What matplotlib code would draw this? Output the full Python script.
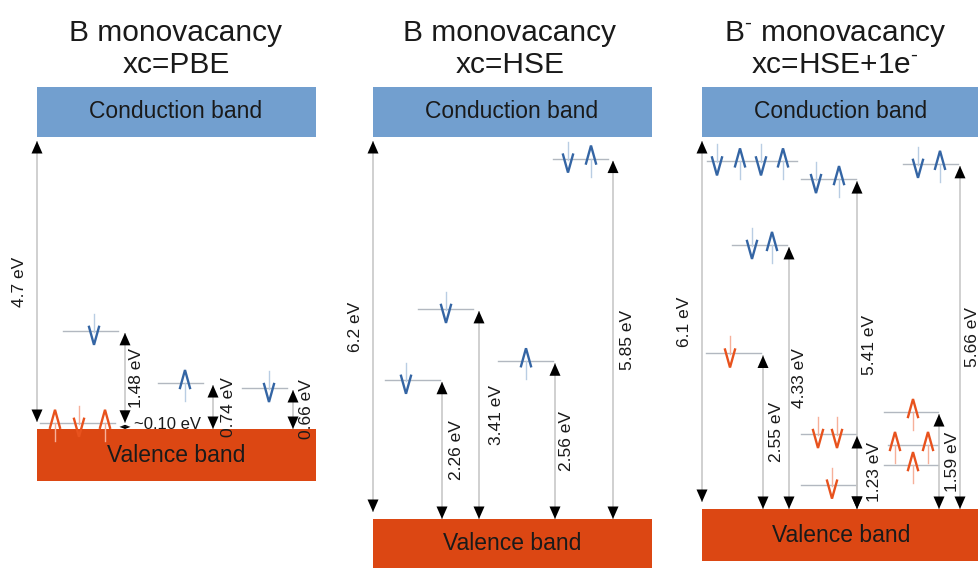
import matplotlib
matplotlib.use("Agg")
import matplotlib.pyplot as plt
from matplotlib.patches import Rectangle, Polygon

plt.rcParams['font.family'] = ['Liberation Sans', 'DejaVu Sans']
plt.rcParams['mathtext.fontset'] = 'custom'
plt.rcParams['mathtext.rm'] = 'Liberation Sans'
plt.rcParams['mathtext.it'] = 'Liberation Sans:italic'

# Band gaps (eV) and panel titles
gaps = [4.7, 6.2, 6.1]
titles = ["B monovacancy", "B monovacancy", "B$^{\u2010}$ monovacancy"]
functionals = ["xc=PBE", "xc=HSE", "xc=HSE+1e$^{\u2010}$"]

# Defect levels above the VBM (eV), spin occupation (u/d) and spin channel colour
pbe_levels = [0.10, 1.58, 0.74, 0.66]
pbe_spins = ["udu", "d", "u", "d"]
pbe_colors = ["red", "blue", "blue", "blue"]

hse_levels = [2.26, 3.41, 2.56, 5.85]
hse_spins = ["d", "d", "u", "du"]
hse_colors = ["blue", "blue", "blue", "blue"]

neg_levels = [5.70, 5.41, 5.66, 4.33, 2.55, 1.23, 0.40, 1.59, 1.05, 0.72]
neg_spins = ["dudu", "du", "du", "du", "d", "dd", "d", "u", "uu", "u"]
neg_colors = ["blue", "blue", "blue", "blue", "red", "red", "red", "red", "red", "red"]

# Transitions: lower and upper energy (eV)
pbe_trans = [(0.10, 1.58), (0.0, 0.10), (0.0, 0.74), (0.0, 0.66)]
hse_trans = [(0.0, 2.26), (0.0, 3.41), (0.0, 2.56), (0.0, 5.85)]
neg_trans = [(0.0, 2.55), (0.0, 4.33), (0.0, 5.41), (0.0, 1.23), (0.0, 1.59), (0.0, 5.66)]

# Layout (pixels)
panels = [
    dict(x0=37, x1=316, cb_top=87, cb_bot=137, vb_top=429, vb_bot=481, tx=176, bx=176),
    dict(x0=373, x1=652, cb_top=87, cb_bot=137, vb_top=519, vb_bot=568, tx=510, bx=512),
    dict(x0=702, x1=981, cb_top=87, cb_bot=137, vb_top=509, vb_bot=561, tx=835, bx=841),
]
level_layout = [
    [(40, 115, [55, 79, 105]), (63, 118, [94]), (158, 203, [185]), (242, 287, [269])],
    [(385, 440, [406]), (418, 473, [446]), (498, 553, [526]), (553, 608, [568, 591])],
    [(707, 797, [717, 740, 761, 783]), (801, 856, [816, 839]), (903, 958, [918, 940]),
     (732, 787, [752, 772]), (706, 761, [730]), (801, 856, [818, 837]), (801, 856, [832]),
     (884, 938, [913]), (888, 938, [895, 928]), (884, 938, [913])],
]
arrow_x = [[125, 125, 213, 293], [442, 479, 555, 613], [763, 789, 857, 857, 939, 960]]
label_dx = [[12, None, 16, 14], [15, 18, 12, 15], [14, 11, 13, 18, 14, 13]]

CB_COLOR = "#729fcf"
VB_COLOR = "#dc4713"
CHEV = {"blue": "#3465a4", "red": "#e8521d"}
STEM = {"blue": "#b9cde3", "red": "#f6b09a"}
LEVEL_COLOR = "#b2b8c0"
SHAFT = "#c4c4c4"
TEXT = "#1a1a1a"

fig = plt.figure(figsize=(9.79, 5.68), dpi=100)
ax = fig.add_axes([0, 0, 1, 1])
ax.set_xlim(0, 979)
ax.set_ylim(568, 0)
ax.axis("off")


def arrow(x, ya, yb):
    # double-headed arrow between pixel rows ya (top) and yb (bottom)
    ax.plot([x, x], [ya, yb], color=SHAFT, lw=1.1, zorder=3, solid_capstyle="butt")
    hl = min(12.5, (yb - ya) / 2)
    hw = 5.5
    ax.add_patch(Polygon([(x, ya), (x - hw, ya + hl), (x + hw, ya + hl)],
                         closed=True, color="black", lw=0, zorder=4))
    ax.add_patch(Polygon([(x, yb), (x - hw, yb - hl), (x + hw, yb - hl)],
                         closed=True, color="black", lw=0, zorder=4))


def spin(x, y, s, c):
    if s == "d":
        ax.plot([x, x], [y - 17, y + 1], color=STEM[c], lw=1.0, zorder=3)
        ax.plot([x - 5, x, x + 5], [y - 4, y + 14, y - 4], color=CHEV[c], lw=1.7,
                zorder=5, solid_joinstyle="miter")
    else:
        ax.plot([x, x], [y, y + 18], color=STEM[c], lw=1.0, zorder=3)
        ax.plot([x - 5, x, x + 5], [y + 5, y - 13, y + 5], color=CHEV[c], lw=1.7,
                zorder=5, solid_joinstyle="miter")


all_levels = [pbe_levels, hse_levels, neg_levels]
all_spins = [pbe_spins, hse_spins, neg_spins]
all_colors = [pbe_colors, hse_colors, neg_colors]
all_trans = [pbe_trans, hse_trans, neg_trans]

for i, p in enumerate(panels):
    scale = (p["vb_top"] - p["cb_bot"]) / gaps[i]

    def ey(e):
        return p["vb_top"] - e * scale

    # titles
    ax.text(p["tx"], 41, titles[i], ha="center", va="baseline", fontsize=21.5, color=TEXT)
    ax.text(p["tx"], 73, functionals[i], ha="center", va="baseline", fontsize=21.5, color=TEXT)

    # bands
    ax.add_patch(Rectangle((p["x0"], p["cb_top"]), p["x1"] - p["x0"], p["cb_bot"] - p["cb_top"],
                           color=CB_COLOR, lw=0, zorder=1))
    ax.add_patch(Rectangle((p["x0"], p["vb_top"]), p["x1"] - p["x0"], p["vb_bot"] - p["vb_top"],
                           color=VB_COLOR, lw=0, zorder=1))
    ax.text(p["bx"], (p["cb_top"] + p["cb_bot"]) / 2, "Conduction band", ha="center",
            va="center", fontsize=16.5, color=TEXT, zorder=6)
    ax.text(p["bx"], (p["vb_top"] + p["vb_bot"]) / 2, "Valence band", ha="center",
            va="center", fontsize=16.5, color=TEXT, zorder=6)

    # band gap arrow
    gx = p["x0"]
    g_top, g_bot = ey(gaps[i]) + 4, ey(0) - 7
    arrow(gx, g_top, g_bot)
    ax.text(gx - 17, (g_top + g_bot) / 2, f"{gaps[i]:g} eV", rotation=90, ha="center",
            va="center", fontsize=12.5, color=TEXT)

    # defect levels
    for e, s, c, (lx0, lx1, sx) in zip(all_levels[i], all_spins[i], all_colors[i], level_layout[i]):
        y = ey(e)
        ax.plot([lx0, lx1], [y, y], color=LEVEL_COLOR, lw=1.0, zorder=2)
        for xs, ss in zip(sx, s):
            spin(xs, y, ss, c)

    # transitions
    for (e0, e1), x, dx in zip(all_trans[i], arrow_x[i], label_dx[i]):
        ya, yb = ey(e1) + 2, ey(e0)
        arrow(x, ya, yb)
        if dx is None:
            ax.text(x + 9, (ya + yb) / 2 - 2, f"~{e1 - e0:.2f} eV", ha="left", va="center",
                    fontsize=12, color=TEXT, zorder=6)
        else:
            ax.text(x + dx, (ya + yb) / 2, f"{e1 - e0:.2f} eV", rotation=90, ha="center",
                    va="center", fontsize=12.5, color=TEXT, zorder=6)

fig.savefig("out.png", dpi=100)
